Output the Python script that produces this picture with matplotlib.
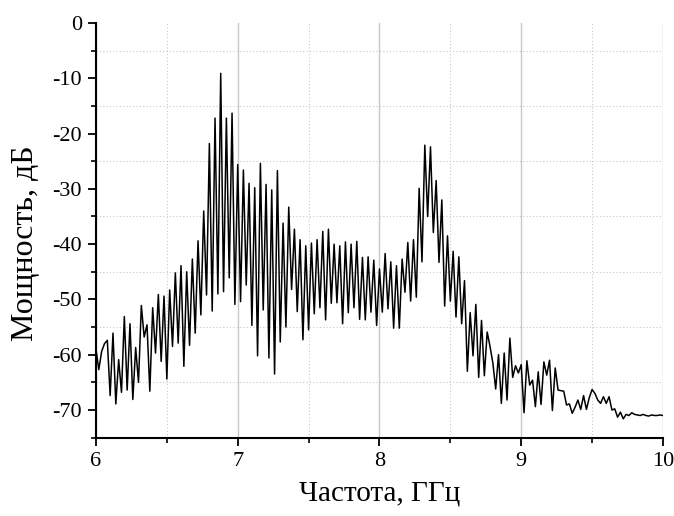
import numpy as np
import matplotlib
matplotlib.use('Agg')
import matplotlib.pyplot as plt
from matplotlib.ticker import FixedLocator, MultipleLocator

# frequency grid: 6..10 GHz, 0.02 GHz step
f_start, f_stop, n_pts = 6.0, 10.0, 201

power_db = [
    -59.0, -62.7, -59.4, -58.0, -57.4, -67.4, -56.1, -68.9, -60.9, -66.8,
    -53.1, -66.4, -54.4, -68.1, -58.7, -65.0, -51.1, -56.8, -54.6, -66.6,
    -51.5, -59.7, -49.1, -61.2, -49.4, -64.4, -48.3, -58.5, -45.2, -57.9,
    -43.9, -62.1, -45.0, -58.3, -42.7, -56.1, -39.4, -52.8, -34.0, -49.2,
    -21.8, -52.1, -17.2, -49.0, -9.1, -48.6, -17.2, -46.1, -16.3, -50.9,
    -25.6, -50.4, -26.6, -47.4, -29.0, -54.7, -29.8, -60.2, -25.4, -51.9,
    -29.2, -60.6, -30.2, -63.5, -26.7, -57.7, -36.2, -55.0, -33.3, -48.2,
    -37.3, -52.2, -39.2, -57.3, -40.3, -55.5, -39.8, -52.6, -39.2, -51.5,
    -37.7, -53.7, -37.3, -50.7, -40.0, -50.6, -40.3, -54.4, -39.6, -52.4,
    -40.0, -51.5, -39.5, -53.6, -42.4, -53.7, -42.3, -52.3, -42.9, -54.7,
    -44.5, -52.3, -41.7, -51.7, -43.2, -55.2, -43.9, -55.2, -42.7, -48.7,
    -39.7, -50.3, -39.2, -49.6, -29.9, -43.2, -22.1, -35.0, -22.4, -37.9,
    -28.5, -43.3, -32.0, -51.2, -38.5, -50.3, -41.3, -53.2, -42.3, -54.4,
    -46.6, -63.0, -52.4, -60.2, -50.9, -64.1, -53.8, -63.8, -55.9, -58.5,
    -61.5, -66.2, -60.0, -68.8, -59.7, -68.2, -57.0, -64.1, -62.0, -63.3,
    -61.8, -70.5, -61.1, -65.5, -64.6, -69.4, -63.1, -69.0, -61.3, -63.7,
    -61.0, -70.1, -62.4, -66.4, -66.5, -66.6, -69.1, -68.9, -70.6, -69.5,
    -68.2, -69.9, -67.4, -69.9, -67.8, -66.3, -67.0, -68.2, -68.8, -67.6,
    -68.8, -67.6, -70.0, -69.8, -71.3, -70.4, -71.6, -70.8, -71.0, -70.5,
    -70.8, -70.9, -71.0, -70.8, -71.0, -71.1, -70.9, -71.0, -71.0, -70.9,
    -71.0,
]

x_ticks = [6, 7, 8, 9, 10]
y_ticks = [-70, -60, -50, -40, -30, -20, -10, 0]

freq = np.linspace(f_start, f_stop, n_pts)

plt.rcParams['font.family'] = ['Liberation Serif', 'DejaVu Serif']
plt.rcParams['axes.unicode_minus'] = False

fig = plt.figure(figsize=(6.74, 5.16), dpi=100)
ax = fig.add_axes([0.1424, 0.1519, 0.8412, 0.8035])

ax.plot(freq, power_db, color='black', lw=1.1, zorder=3)

ax.set_xlim(6, 10)
ax.set_ylim(-75, 0)

ax.xaxis.set_major_locator(FixedLocator(x_ticks))
ax.yaxis.set_major_locator(FixedLocator(y_ticks))
ax.xaxis.set_minor_locator(MultipleLocator(0.5))
ax.yaxis.set_minor_locator(MultipleLocator(5))

ax.grid(which='major', color='#c8c8c8', lw=1.0, ls='-')
ax.grid(which='minor', color='#c8c8c8', lw=0.8, ls=(0, (1, 2)))
ax.set_axisbelow(True)

# no grid line on the axis edges
for t in ax.xaxis.get_major_ticks():
    if t.get_loc() in (6, 10):
        t.gridline.set_visible(False)
for t in ax.yaxis.get_major_ticks():
    if t.get_loc() in (0, -75):
        t.gridline.set_visible(False)

for s in ('top', 'right'):
    ax.spines[s].set_visible(False)
for s in ('left', 'bottom'):
    ax.spines[s].set_linewidth(1.5)

ax.tick_params(which='major', direction='out', length=6, width=1.3,
               labelsize=16, pad=4)
ax.tick_params(which='minor', direction='out', length=3.5, width=1.2)

ax.set_xlabel('Частота, ГГц', fontsize=21, va='center')
ax.set_ylabel('Мощность, дБ', fontsize=23, va='center')
ax.xaxis.set_label_coords(0.5, -0.135)
ax.yaxis.set_label_coords(-0.125, 0.47)

fig.savefig('out.png', dpi=100)
